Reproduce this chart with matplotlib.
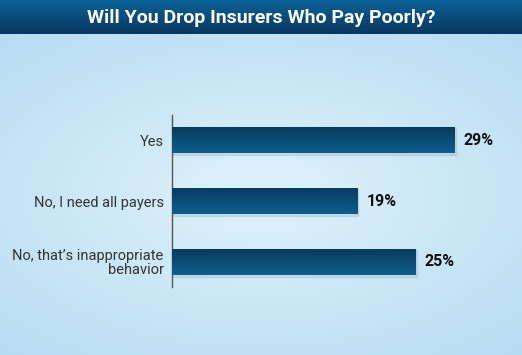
import numpy as np
import matplotlib.pyplot as plt
from matplotlib.patches import Rectangle

title = "Will You Drop Insurers Who Pay Poorly?"
labels = ["Yes", "No, I need all payers", "No, that\u2019s inappropriate\nbehavior"]
values = [29, 19, 25]

cond = ["Liberation Sans Narrow", "Roboto", "DejaVu Sans"]

fig = plt.figure(figsize=(5.22, 3.55), dpi=100)

# background gradient
bg = fig.add_axes([0, 0, 1, 1])
bg.set_axis_off()
xx, yy = np.meshgrid(np.linspace(-1, 1, 300), np.linspace(-1, 1, 200))
d = np.clip(np.sqrt((xx * 0.8) ** 2 + (yy + 0.1) ** 2) / 1.25, 0, 1)
c0 = np.array([0.88, 0.95, 0.98])
c1 = np.array([0.71, 0.86, 0.95])
img = c0[None, None, :] * (1 - d[..., None]) + c1[None, None, :] * d[..., None]
bg.imshow(img, extent=[0, 1, 0, 1], aspect="auto", origin="lower")
bg.set_xlim(0, 1)
bg.set_ylim(0, 1)

# title bar
tb = np.linspace(0, 1, 50)[:, None]
top = np.array([0.05, 0.38, 0.60])
bot = np.array([0.03, 0.22, 0.37])
band = top[None, :] * tb + bot[None, :] * (1 - tb)
bg.imshow(band[:, None, :], extent=[0, 1, 1 - 34 / 355, 1], aspect="auto", origin="lower")
fig.text(0.5, 1 - 18 / 355, title, ha="center", va="center", color="white",
         fontsize=14, fontweight="bold", family=cond)

ax = fig.add_axes([172 / 522, 68 / 355, 341 / 522, 172 / 355])
ax.patch.set_alpha(0)
ypos = np.arange(len(values))
bars = ax.barh(ypos, values, height=0.44, color="#0b4a74")
ax.set_xlim(0, 35)
ax.set_ylim(2.41, -0.41)

grad = np.linspace(0, 1, 50)[:, None]
gt = np.array([0.03, 0.23, 0.36])
gb = np.array([0.05, 0.37, 0.55])
gimg = gt[None, :] * (1 - grad) + gb[None, :] * grad
for b in bars:
    x0, y0 = b.get_x(), b.get_y()
    w, h = b.get_width(), b.get_height()
    ax.add_patch(Rectangle((x0 + 0.1, y0 + 0.03), w, h, color="#8aa6ba", alpha=0.25, zorder=1))
    im = ax.imshow(gimg[:, None, :], extent=[x0, x0 + w, y0 + h, y0], aspect="auto",
                   origin="upper", zorder=3)
    im.set_clip_path(b)
    b.set_zorder(2)

for y, v in zip(ypos, values):
    ax.text(v + 0.95, y, f"{v}%", va="center", ha="left", fontsize=11.5, fontweight="bold",
            color="#111111", family=cond)

ax.set_yticks(ypos)
ax.set_yticklabels(labels, fontsize=10.5, color="#333333", ha="right",
                   family=["Roboto", "DejaVu Sans"], linespacing=1.0)
ax.tick_params(axis="y", length=0, pad=6)
ax.set_xticks([])
for s in ["top", "right", "bottom"]:
    ax.spines[s].set_visible(False)
ax.spines["left"].set_color("#555555")
ax.spines["left"].set_linewidth(1)

fig.savefig("out.png", dpi=100)
